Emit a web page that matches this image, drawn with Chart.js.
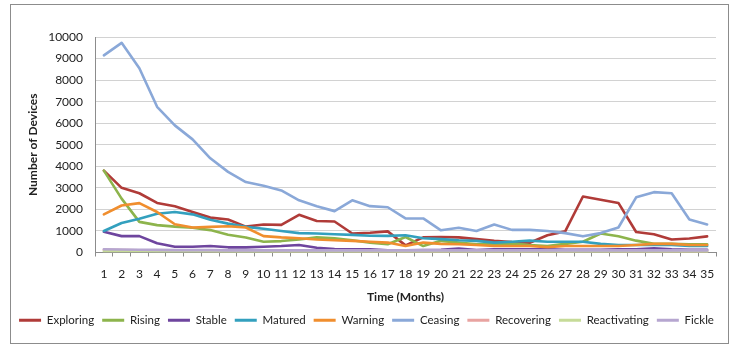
<!DOCTYPE html>
<html><head><meta charset="utf-8">
<script src="https://cdn.jsdelivr.net/npm/chart.js@4.4.1/dist/chart.umd.min.js"></script>
<style>
html,body{margin:0;padding:0;background:#fff;}
#wrap{position:relative;width:733px;height:351px;overflow:hidden;}
#frame{position:absolute;left:10px;top:4px;width:719px;height:340px;border:1px solid #8c8c8c;box-sizing:border-box;pointer-events:none;}
canvas{position:absolute;left:0;top:0;}
</style></head><body>
<div id="wrap"><canvas id="c" width="733" height="351"></canvas><div id="frame"></div></div>
<script>
const months = ["1","2","3","4","5","6","7","8","9","10","11","12","13","14","15","16","17","18","19","20","21","22","23","24","25","26","27","28","29","30","31","32","33","34","35"];
const seriesNames = ["Exploring","Rising","Stable","Matured","Warning","Ceasing","Recovering","Reactivating","Fickle"];
const exploring = [3800,3000,2750,2300,2150,1880,1620,1530,1200,1300,1280,1750,1460,1440,880,920,980,330,700,720,700,620,540,480,450,800,980,2600,2450,2300,950,850,600,650,750];
const rising = [3800,2500,1420,1270,1200,1150,1040,820,700,500,530,600,700,660,570,460,380,720,300,540,460,380,400,420,350,300,400,500,880,750,550,400,400,380,380];
const stable = [960,760,760,430,270,270,300,240,240,270,300,350,220,160,150,150,100,100,110,130,180,110,150,150,150,150,130,130,120,150,150,200,150,120,120];
const matured = [1000,1370,1570,1800,1880,1770,1520,1340,1190,1100,1000,900,880,850,820,780,770,800,660,620,570,540,460,500,550,500,500,500,400,350,350,350,350,300,300];
const warning = [1770,2180,2290,1880,1310,1160,1190,1220,1160,760,700,660,600,570,540,500,460,300,460,400,380,350,300,300,300,250,300,300,300,300,350,400,400,350,350];
const ceasing = [9150,9730,8550,6760,5900,5250,4370,3740,3270,3100,2880,2420,2150,1920,2420,2150,2100,1580,1580,1030,1150,1000,1300,1050,1050,1000,900,750,900,1160,2560,2800,2750,1530,1300];
const recovering = [120,110,100,90,80,80,70,70,70,70,60,60,60,60,60,50,50,60,50,50,50,50,50,50,50,50,50,60,60,50,50,50,50,50,50];
const reactivating = [60,60,60,50,50,50,50,40,40,40,40,40,40,40,40,40,40,40,40,40,40,40,40,40,40,40,40,40,40,40,40,40,40,40,40];
const fickle = [150,140,130,120,110,110,110,100,100,100,100,100,100,100,100,100,100,100,100,100,100,100,100,100,100,100,100,100,100,100,100,100,100,100,100];
const yTicks = [0,1000,2000,3000,4000,5000,6000,7000,8000,9000,10000];

const colors = ["#B03B38","#8DB44C","#6E459E","#33A0BE","#F08E2E","#8AA8D8","#E8A3A1","#C6DB98","#B6A6D0"];
const values = [exploring,rising,stable,matured,warning,ceasing,recovering,reactivating,fickle];

const datasets = seriesNames.map((n,i)=>({
  label:n, data:values[i], borderColor:colors[i], backgroundColor:colors[i],
  borderWidth:2.6, pointRadius:0, tension:0, borderJoinStyle:'round', borderCapStyle:'round',
  order: 9 - i
}));

const font = {family:'Lato', size:12};
new Chart(document.getElementById('c'), {
  type:'line',
  data:{labels:months, datasets},
  options:{
    responsive:false, animation:false, devicePixelRatio:1,
    layout:{padding:{left:0,right:0,top:37,bottom:15}},
    plugins:{
      tooltip:{enabled:false},
      legend:{
        position:'bottom',
        labels:{
          boxWidth:22, boxHeight:3, padding:8, color:'#222', font:{family:'Lato', size:11.5},
          sort:(a,b)=>a.datasetIndex-b.datasetIndex,
          generateLabels:(chart)=>Chart.defaults.plugins.legend.labels.generateLabels(chart).map(l=>({...l,lineWidth:0}))
        }
      }
    },
    scales:{
      x:{
        type:'category', offset:true,
        grid:{display:true, drawOnChartArea:false, drawTicks:true, tickLength:4, color:'#8c8c8c', offset:true},
        border:{display:true, color:'#8c8c8c', width:1},
        ticks:{autoSkip:false, maxRotation:0, minRotation:0, padding:10, color:'#222', font},
        title:{display:true, text:'Time (Months)', color:'#222', font:{family:'Lato', size:12, weight:'bold'}, padding:{top:2,bottom:2}},
        afterFit:(s)=>{s.height = 54;}
      },
      y:{
        min:0, max:10000,
        afterBuildTicks:(s)=>{s.ticks = yTicks.map(v=>({value:v}));},
        grid:{color:'#D2D2D2', lineWidth:1, drawTicks:false},
        border:{display:true, color:'#8c8c8c', width:1},
        ticks:{padding:12, color:'#222', font, callback:(v)=>String(v)},
        title:{display:true, text:'Number of Devices', color:'#222', font:{family:'Lato', size:12, weight:'bold'}, padding:{top:26,bottom:0}},
        afterFit:(s)=>{s.width = 95;}
      },
      y2:{
        position:'right', display:true,
        grid:{display:false, drawTicks:false}, border:{display:false},
        ticks:{display:false}, title:{display:false},
        afterFit:(s)=>{s.width = 17;}
      }
    }
  }
});
</script>
</body></html>
